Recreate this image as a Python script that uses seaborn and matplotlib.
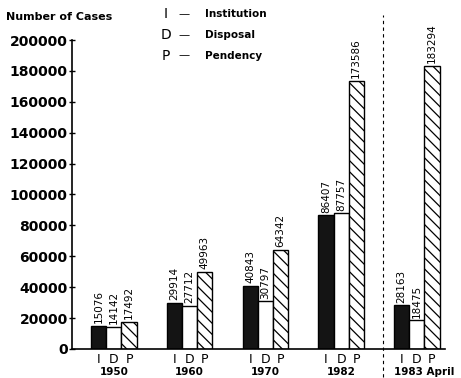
import matplotlib
matplotlib.use("Agg")
import matplotlib.pyplot as plt
import pandas as pd
import seaborn as sns

sns.set_theme(style="white")
plt.rcParams["font.family"] = ["DejaVu Sans"]
plt.rcParams["hatch.linewidth"] = 0.9
plt.rcParams["text.color"] = "black"
plt.rcParams["ytick.color"] = "black"
plt.rcParams["ytick.labelcolor"] = "black"

years = ["1950", "1960", "1970", "1982", "1983 April"]
kinds = ["I", "D", "P"]
institution = [15076, 29914, 40843, 86407, 28163]
disposal = [14142, 27712, 30797, 87757, 18475]
pendency = [17492, 49963, 64342, 173586, 183294]
y_ticks = list(range(0, 200001, 20000))

df = pd.DataFrame({
    "year": years * 3,
    "kind": ["I"] * 5 + ["D"] * 5 + ["P"] * 5,
    "cases": institution + disposal + pendency,
})

fig = plt.figure(figsize=(4.61, 3.78), dpi=100)
ax = fig.add_axes([0.156, 0.077, 0.809, 0.817])

sns.barplot(data=df, x="year", y="cases", hue="kind", order=years,
            hue_order=kinds, width=0.6, gap=0, legend=False, ax=ax,
            saturation=1, err_kws={"linewidth": 0})

styles = {"I": dict(fc="#141414", hatch=None),
          "D": dict(fc="white", hatch=None),
          "P": dict(fc="white", hatch="\\\\\\")}
for kind, cont in zip(kinds, ax.containers):
    for bar in cont:
        bar.set_facecolor(styles[kind]["fc"])
        bar.set_edgecolor("black")
        bar.set_linewidth(1.0)
        if styles[kind]["hatch"]:
            bar.set_hatch(styles[kind]["hatch"])
    ax.bar_label(cont, labels=[str(int(b.get_height())) for b in cont],
                 rotation=90, padding=2, fontsize=7.5, color="black")
    # I / D / P letters under every bar
    for bar in cont:
        xc = bar.get_x() + bar.get_width() / 2
        ax.text(xc, -0.012, kind, transform=ax.get_xaxis_transform(),
                ha="center", va="top", fontsize=9)

ax.set_xlim(-0.554, 4.37)
ax.set_ylim(0, 200000)
ax.set_yticks(y_ticks)
ax.set_yticklabels([str(t) for t in y_ticks], fontsize=10, fontweight="bold")
ax.set_xticks([])
ax.set_xlabel("")
ax.set_ylabel("")
for s in ["top", "right"]:
    ax.spines[s].set_visible(False)
for s in ["left", "bottom"]:
    ax.spines[s].set_color("black")
    ax.spines[s].set_linewidth(1.2)
ax.tick_params(axis="y", direction="inout", length=4, width=1, left=True, pad=1)

# year labels under the groups
for i, yr in enumerate(years):
    xpos = i if i < 4 else i - 0.3
    ax.text(xpos, -0.058, yr, transform=ax.get_xaxis_transform(),
            ha="center" if i < 4 else "left", va="top", fontsize=7.5,
            fontweight="bold")

# dashed separator before the 1983 group
ax.axvline(3.55, ymin=-0.09, ymax=1.08, color="black", lw=0.8,
           ls=(0, (3, 3)), clip_on=False)

fig.text(0.013, 0.955, "Number of Cases", fontsize=8, fontweight="bold",
         va="center")
legend_rows = [("I", "Institution"), ("D", "Disposal"), ("P", "Pendency")]
for k, (letter, name) in enumerate(legend_rows):
    y = 0.963 - k * 0.055
    fig.text(0.36, y, letter, fontsize=10, va="center", ha="center")
    fig.text(0.40, y, "\u2014", fontsize=8, va="center", ha="center")
    fig.text(0.445, y, name, fontsize=7.5, fontweight="bold", va="center")

fig.savefig("out.png", dpi=100)
